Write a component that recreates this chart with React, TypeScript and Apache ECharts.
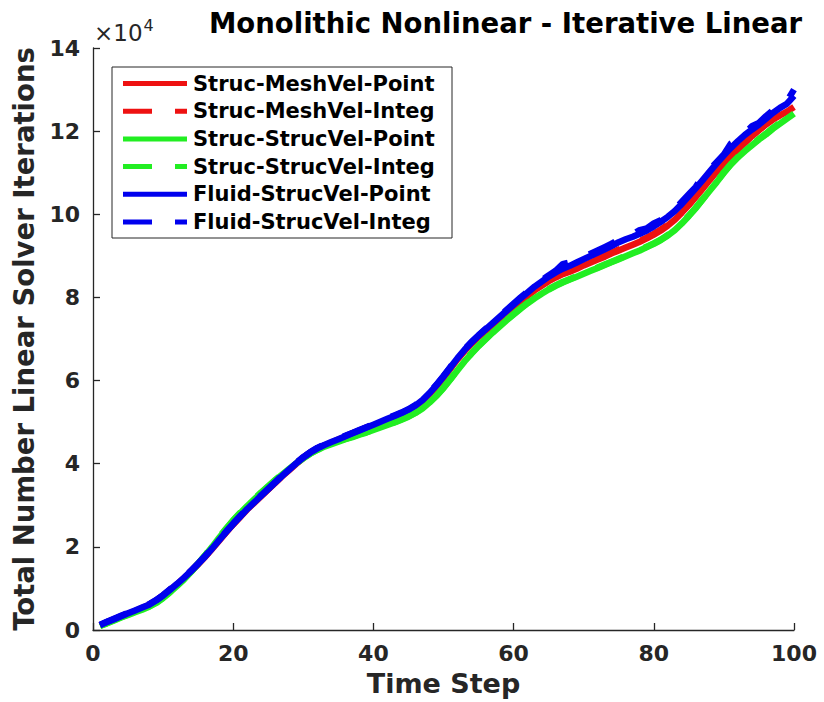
import React, { useEffect, useRef } from "react";
import * as echarts from "echarts";

// Time steps 1..100
const timeSteps: number[] = Array.from({ length: 100 }, (_, i) => i + 1);

// Total linear solver iterations, in units of 10^4
const strucMeshVelPoint: number[] = [
  0.11, 0.18, 0.25, 0.32, 0.39, 0.46, 0.53, 0.60, 0.70, 0.82,
  0.96, 1.10, 1.25, 1.41, 1.58, 1.76, 1.95, 2.15, 2.35, 2.54,
  2.72, 2.90, 3.06, 3.22, 3.38, 3.54, 3.70, 3.85, 4.00, 4.14,
  4.26, 4.36, 4.44, 4.51, 4.58, 4.65, 4.72, 4.79, 4.86, 4.92,
  4.99, 5.06, 5.13, 5.20, 5.28, 5.38, 5.51, 5.67, 5.86, 6.07,
  6.29, 6.51, 6.71, 6.89, 7.05, 7.19, 7.34, 7.48, 7.62, 7.76,
  7.90, 8.04, 8.17, 8.28, 8.39, 8.48, 8.56, 8.62, 8.69, 8.77,
  8.84, 8.91, 8.98, 9.06, 9.13, 9.20, 9.27, 9.34, 9.42, 9.51,
  9.61, 9.73, 9.87, 10.04, 10.22, 10.42, 10.62, 10.83, 11.03, 11.22,
  11.40, 11.56, 11.72, 11.88, 12.02, 12.16, 12.28, 12.38, 12.47, 12.58,
];
const strucMeshVelInteg: number[] = [
  0.11, 0.19, 0.26, 0.33, 0.40, 0.47, 0.54, 0.61, 0.71, 0.83,
  0.97, 1.11, 1.26, 1.42, 1.59, 1.77, 1.96, 2.16, 2.36, 2.55,
  2.73, 2.91, 3.07, 3.23, 3.39, 3.55, 3.71, 3.86, 4.01, 4.15,
  4.27, 4.37, 4.45, 4.52, 4.59, 4.66, 4.73, 4.80, 4.87, 4.93,
  5.00, 5.07, 5.14, 5.21, 5.29, 5.39, 5.52, 5.68, 5.87, 6.08,
  6.30, 6.52, 6.72, 6.90, 7.06, 7.20, 7.35, 7.49, 7.63, 7.78,
  7.92, 8.06, 8.19, 8.30, 8.41, 8.50, 8.58, 8.64, 8.71, 8.79,
  8.86, 8.93, 9.00, 9.08, 9.15, 9.22, 9.29, 9.36, 9.44, 9.53,
  9.63, 9.75, 9.89, 10.06, 10.24, 10.44, 10.64, 10.85, 11.05, 11.24,
  11.42, 11.58, 11.74, 11.90, 12.04, 12.18, 12.30, 12.40, 12.49, 12.62,
];
const strucStrucVelPoint: number[] = [
  0.10, 0.16, 0.23, 0.30, 0.36, 0.43, 0.49, 0.56, 0.65, 0.77,
  0.91, 1.06, 1.22, 1.40, 1.59, 1.79, 2.00, 2.22, 2.43, 2.63,
  2.81, 2.98, 3.14, 3.30, 3.45, 3.60, 3.74, 3.88, 4.01, 4.13,
  4.24, 4.33, 4.41, 4.47, 4.53, 4.59, 4.64, 4.70, 4.75, 4.81,
  4.87, 4.93, 4.99, 5.06, 5.13, 5.22, 5.33, 5.47, 5.63, 5.82,
  6.03, 6.25, 6.46, 6.65, 6.83, 6.99, 7.15, 7.30, 7.45, 7.59,
  7.73, 7.86, 7.98, 8.09, 8.19, 8.28, 8.36, 8.43, 8.50, 8.57,
  8.64, 8.71, 8.78, 8.85, 8.92, 8.99, 9.06, 9.13, 9.21, 9.29,
  9.38, 9.49, 9.62, 9.78, 9.96, 10.15, 10.36, 10.57, 10.78, 11.00,
  11.20, 11.37, 11.52, 11.66, 11.80, 11.92, 12.06, 12.18, 12.30, 12.42,
];
const strucStrucVelInteg: number[] = [
  0.10, 0.17, 0.24, 0.31, 0.37, 0.44, 0.50, 0.57, 0.66, 0.78,
  0.92, 1.07, 1.23, 1.41, 1.60, 1.80, 2.01, 2.23, 2.44, 2.64,
  2.82, 2.99, 3.15, 3.31, 3.46, 3.61, 3.75, 3.89, 4.02, 4.14,
  4.25, 4.34, 4.42, 4.48, 4.54, 4.60, 4.65, 4.71, 4.76, 4.82,
  4.88, 4.94, 5.00, 5.07, 5.14, 5.23, 5.34, 5.48, 5.64, 5.83,
  6.04, 6.26, 6.47, 6.66, 6.84, 7.00, 7.16, 7.31, 7.46, 7.60,
  7.74, 7.87, 7.99, 8.10, 8.20, 8.29, 8.37, 8.44, 8.51, 8.58,
  8.65, 8.72, 8.79, 8.86, 8.93, 9.00, 9.07, 9.14, 9.22, 9.30,
  9.39, 9.50, 9.63, 9.79, 9.97, 10.16, 10.37, 10.58, 10.79, 11.01,
  11.21, 11.38, 11.53, 11.67, 11.81, 11.94, 12.08, 12.20, 12.32, 12.45,
];
const fluidStrucVelPoint: number[] = [
  0.12, 0.19, 0.26, 0.33, 0.40, 0.47, 0.54, 0.61, 0.71, 0.83,
  0.97, 1.11, 1.26, 1.42, 1.59, 1.77, 1.96, 2.16, 2.36, 2.55,
  2.73, 2.91, 3.07, 3.23, 3.39, 3.55, 3.71, 3.86, 4.01, 4.15,
  4.27, 4.37, 4.45, 4.52, 4.59, 4.66, 4.73, 4.80, 4.87, 4.94,
  5.01, 5.08, 5.15, 5.22, 5.30, 5.40, 5.53, 5.70, 5.89, 6.10,
  6.32, 6.54, 6.74, 6.92, 7.08, 7.23, 7.38, 7.53, 7.68, 7.83,
  7.98, 8.12, 8.26, 8.38, 8.50, 8.60, 8.69, 8.76, 8.84, 8.92,
  9.00, 9.08, 9.16, 9.24, 9.33, 9.40, 9.46, 9.53, 9.61, 9.71,
  9.82, 9.94, 10.08, 10.25, 10.44, 10.63, 10.83, 11.03, 11.23, 11.42,
  11.60, 11.76, 11.91, 12.04, 12.16, 12.30, 12.44, 12.56, 12.66, 12.85,
];
const fluidStrucVelInteg: number[] = [
  0.12, 0.20, 0.27, 0.34, 0.41, 0.48, 0.55, 0.62, 0.72, 0.84,
  0.98, 1.12, 1.27, 1.43, 1.60, 1.78, 1.97, 2.17, 2.37, 2.56,
  2.74, 2.92, 3.08, 3.24, 3.40, 3.56, 3.72, 3.87, 4.02, 4.16,
  4.28, 4.38, 4.46, 4.53, 4.60, 4.67, 4.74, 4.81, 4.88, 4.95,
  5.02, 5.09, 5.16, 5.23, 5.31, 5.41, 5.54, 5.71, 5.90, 6.11,
  6.33, 6.55, 6.75, 6.93, 7.09, 7.24, 7.39, 7.54, 7.70, 7.85,
  8.00, 8.14, 8.28, 8.41, 8.53, 8.64, 8.80, 8.84, 8.90, 8.97,
  9.05, 9.13, 9.21, 9.29, 9.40, 9.45, 9.52, 9.62, 9.66, 9.78,
  9.86, 10.02, 10.12, 10.30, 10.48, 10.66, 10.92, 11.08, 11.26, 11.44,
  11.70, 11.80, 11.94, 12.12, 12.20, 12.36, 12.50, 12.62, 12.72, 13.00,
];

const seriesNames: string[] = [
  "Struc-MeshVel-Point",
  "Struc-MeshVel-Integ",
  "Struc-StrucVel-Point",
  "Struc-StrucVel-Integ",
  "Fluid-StrucVel-Point",
  "Fluid-StrucVel-Integ",
];
const seriesValues: number[][] = [
  strucMeshVelPoint,
  strucMeshVelInteg,
  strucStrucVelPoint,
  strucStrucVelInteg,
  fluidStrucVelPoint,
  fluidStrucVelInteg,
];
const seriesColors: string[] = ["#ee1111", "#ee1111", "#22ee22", "#22ee22", "#0000ee", "#0000ee"];
const seriesDashed: boolean[] = [false, true, false, true, false, true];

const xTicks = { min: 0, max: 100, interval: 20 };
const yTicks = { min: 0, max: 14, interval: 2 };

const FONT = "DejaVu Sans";
const AXIS_COLOR = "#262626";
const DASH = [29, 23];

export default function App() {
  const ref = useRef<HTMLDivElement>(null);

  useEffect(() => {
    if (!ref.current) return;
    const chart = echarts.init(ref.current, undefined, { renderer: "svg" });

    const series = seriesNames.map((name, i) => ({
      name,
      type: "line",
      data: timeSteps.map((t, k) => [t, seriesValues[i][k]]),
      symbol: "none",
      showSymbol: false,
      smooth: false,
      lineStyle: {
        color: seriesColors[i],
        width: 6.5,
        type: seriesDashed[i] ? DASH : "solid",
        cap: "butt",
      },
      itemStyle: { color: seriesColors[i] },
      emphasis: { disabled: true },
    }));

    // Legend drawn as graphic elements (box, line samples, labels)
    const legendLeft = 112;
    const legendTop = 67;
    const legendRight = 452;
    const legendBottom = 238;
    const rowY0 = 83.5;
    const rowPitch = 27.7;
    const legendChildren: any[] = [
      {
        type: "rect",
        shape: { x: legendLeft, y: legendTop, width: legendRight - legendLeft, height: legendBottom - legendTop },
        style: { fill: "#ffffff", stroke: AXIS_COLOR, lineWidth: 1 },
      },
    ];
    seriesNames.forEach((name, i) => {
      const y = rowY0 + i * rowPitch;
      legendChildren.push({
        type: "line",
        shape: { x1: 123, y1: y, x2: 187, y2: y },
        style: {
          stroke: seriesColors[i],
          lineWidth: 5,
          lineDash: seriesDashed[i] ? DASH : null,
          lineCap: "butt",
        },
      });
      legendChildren.push({
        type: "text",
        x: 193,
        y: y,
        style: {
          text: name,
          fontFamily: FONT,
          fontWeight: "bold",
          fontSize: 21,
          fill: "#000000",
          verticalAlign: "middle",
          align: "left",
        },
      });
    });

    chart.setOption({
      animation: false,
      backgroundColor: "#ffffff",
      title: {
        text: "Monolithic Nonlinear - Iterative Linear",
        left: 204,
        top: 4,
        textStyle: {
          fontFamily: FONT,
          fontWeight: "bold",
          fontSize: 27.5,
          color: "#000000",
        },
      },
      grid: { left: 93, right: 30, top: 48, bottom: 72 },
      xAxis: {
        type: "value",
        min: xTicks.min,
        max: xTicks.max,
        interval: xTicks.interval,
        name: "Time Step",
        nameLocation: "middle",
        nameGap: 40,
        nameTextStyle: { fontFamily: FONT, fontWeight: "bold", fontSize: 27, color: AXIS_COLOR },
        axisLine: { show: true, lineStyle: { color: AXIS_COLOR, width: 1.3 } },
        axisTick: { show: true, inside: true, length: 7, lineStyle: { color: AXIS_COLOR, width: 1.3 } },
        axisLabel: { fontFamily: FONT, fontWeight: "bold", fontSize: 22, color: AXIS_COLOR, margin: 12 },
        splitLine: { show: false },
      },
      yAxis: {
        type: "value",
        min: yTicks.min,
        max: yTicks.max,
        interval: yTicks.interval,
        name: "Total Number Linear Solver Iterations",
        nameLocation: "middle",
        nameGap: 47,
        nameTextStyle: { fontFamily: FONT, fontWeight: "bold", fontSize: 27.5, color: AXIS_COLOR },
        axisLine: { show: true, lineStyle: { color: AXIS_COLOR, width: 1.3 } },
        axisTick: { show: true, inside: true, length: 7, lineStyle: { color: AXIS_COLOR, width: 1.3 } },
        axisLabel: { fontFamily: FONT, fontWeight: "bold", fontSize: 22, color: AXIS_COLOR, margin: 13 },
        splitLine: { show: false },
      },
      graphic: [
        {
          type: "text",
          left: 94,
          top: 17,
          style: {
            text: "{a|×10}{b|4}",
            rich: {
              a: { fontFamily: FONT, fontSize: 23, fill: AXIS_COLOR, verticalAlign: "bottom" },
              b: { fontFamily: FONT, fontSize: 16, fill: AXIS_COLOR, verticalAlign: "top", padding: [0, 0, 11, 1] },
            },
          },
        },
        {
          type: "group",
          z: 100,
          children: legendChildren,
        },
      ],
      series,
    });

    return () => chart.dispose();
  }, []);

  return (
    <div
      ref={ref}
      style={{ position: "fixed", left: 0, top: 0, width: 824, height: 702, background: "#fff" }}
    />
  );
}
